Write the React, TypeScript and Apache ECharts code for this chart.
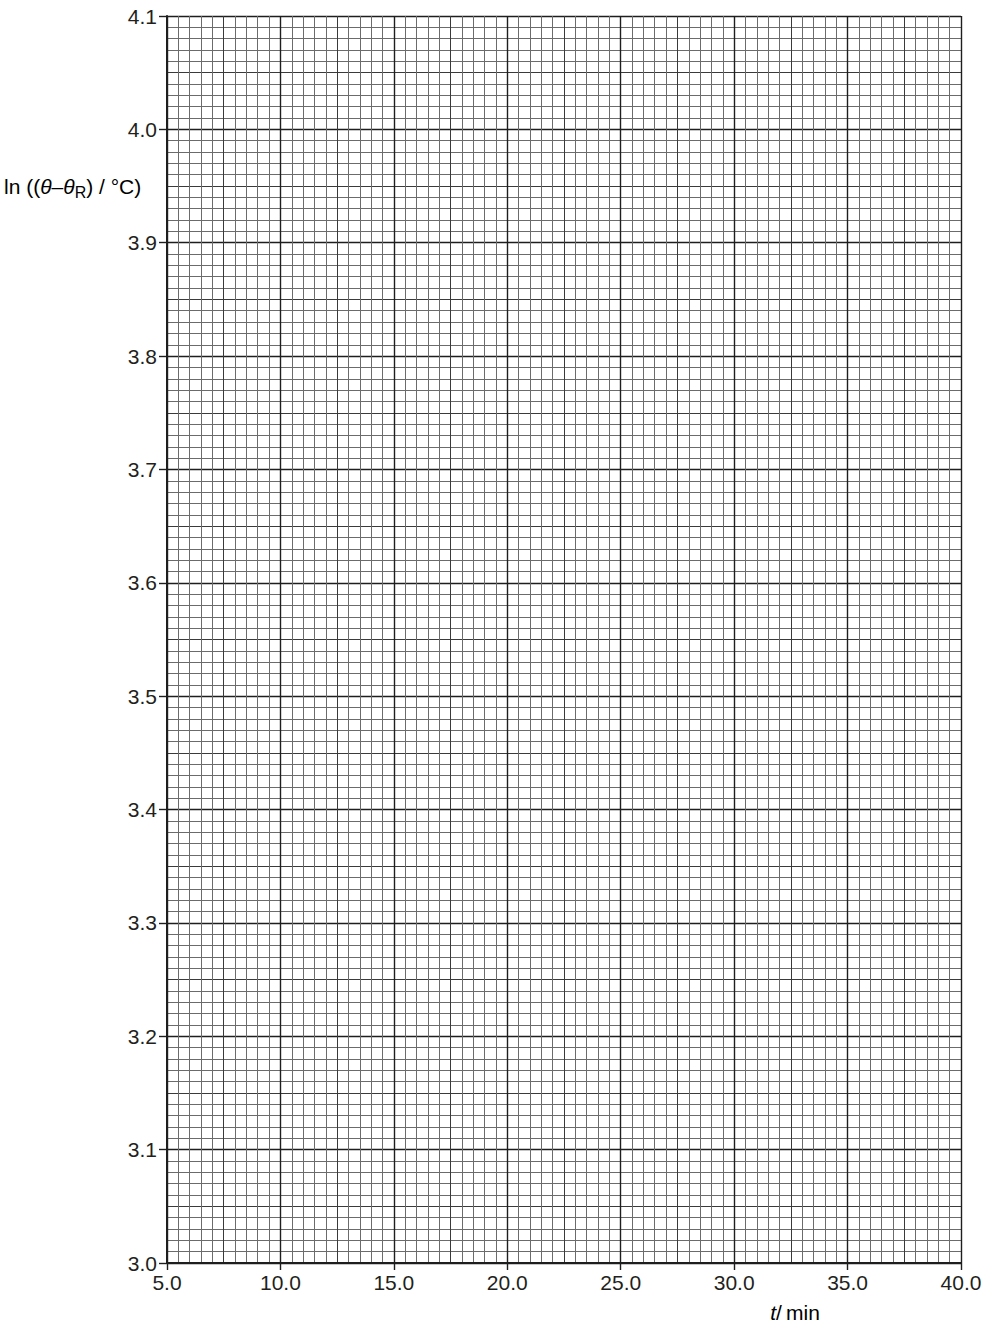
import * as echarts from "echarts";
import { useEffect, useRef } from "react";

/** 横轴 t / min：范围与三级网格间距（小格 0.5，中格 2.5，主格 5）。 */
const X_MIN = 5;
const X_MAX = 40;
const X_STEPS = [0.5, 2.5, 5];
const X_TICK_LABELS = ["5.0", "10.0", "15.0", "20.0", "25.0", "30.0", "35.0", "40.0"];

/** 纵轴 ln((θ−θR)/°C)：范围与三级网格间距（小格 0.01，中格 0.05，主格 0.1）。 */
const Y_MIN = 3.0;
const Y_MAX = 4.1;
const Y_STEPS = [0.01, 0.05, 0.1];
const Y_TICK_LABELS = ["3.0", "3.1", "3.2", "3.3", "3.4", "3.5", "3.6", "3.7", "3.8", "3.9", "4.0", "4.1"];

/** 小格 / 中格 / 主格 线色与线宽（与 *_STEPS 同序）。 */
const LINE_COLORS = ["#6b6b6b", "#3a3a3a", "#1e1e1e"];
const LINE_WIDTHS = [1, 1, 1.4];

const TEXT_COLOR = "#231f20";
const FONT = '"Liberation Sans", Arial, Helvetica, sans-serif';

function labelFor(labels: string[], min: number, step: number, v: number): string {
  return labels[Math.round((v - min) / step)] ?? "";
}

function buildOption(): echarts.EChartsOption {
  const xAxes = X_STEPS.map((step, i) => {
    const major = i === X_STEPS.length - 1;
    return {
      type: "value" as const,
      min: X_MIN,
      max: X_MAX,
      interval: step,
      position: "bottom" as const,
      axisLine: { show: major, onZero: false, lineStyle: { color: "#1e1e1e", width: 2 } },
      axisTick: { show: major, length: 7, lineStyle: { color: "#1e1e1e", width: 1.4 } },
      axisLabel: {
        show: major,
        margin: 9,
        color: TEXT_COLOR,
        fontSize: 21,
        fontFamily: FONT,
        formatter: (v: number) => labelFor(X_TICK_LABELS, X_MIN, step, v),
      },
      splitLine: { show: true, lineStyle: { color: LINE_COLORS[i], width: LINE_WIDTHS[i] } },
    };
  });
  const yAxes = Y_STEPS.map((step, i) => {
    const major = i === Y_STEPS.length - 1;
    return {
      type: "value" as const,
      min: Y_MIN,
      max: Y_MAX,
      interval: step,
      position: "left" as const,
      axisLine: { show: major, onZero: false, lineStyle: { color: "#1e1e1e", width: 2 } },
      axisTick: { show: major, length: 8, lineStyle: { color: "#1e1e1e", width: 1.4 } },
      axisLabel: {
        show: major,
        margin: 10,
        color: TEXT_COLOR,
        fontSize: 21,
        fontFamily: FONT,
        formatter: (v: number) => labelFor(Y_TICK_LABELS, Y_MIN, step, v),
      },
      splitLine: { show: true, lineStyle: { color: LINE_COLORS[i], width: LINE_WIDTHS[i] } },
    };
  });

  const rich = {
    n: { fontSize: 21, fontFamily: FONT, color: TEXT_COLOR },
    i: { fontSize: 21, fontFamily: FONT, fontStyle: "italic" as const, color: TEXT_COLOR },
    s: { fontSize: 16, fontFamily: FONT, color: TEXT_COLOR, padding: [12, 0, 0, 0] },
  };

  return {
    animation: false,
    grid: { left: 167, right: 28, top: 16, bottom: 68, outerBoundsMode: "none" } as echarts.GridComponentOption,
    xAxis: xAxes,
    yAxis: yAxes,
    series: [{ type: "scatter", data: [], xAxisIndex: 2, yAxisIndex: 2 }],
    graphic: [
      {
        type: "text",
        x: 4,
        y: 186,
        style: {
          text: "{n|ln ((}{i|θ}{n|–}{i|θ}{s|R}{n|) / °C)}",
          rich,
          verticalAlign: "middle",
        },
      },
      {
        type: "text",
        x: 795,
        y: 1312,
        style: {
          text: "{i|t}{n|/\u2009min}",
          rich,
          align: "center",
          verticalAlign: "middle",
        },
      },
    ],
  };
}

export default function App() {
  const chartRef = useRef<HTMLDivElement | null>(null);

  useEffect(() => {
    const el = chartRef.current;
    if (!el) {
      return undefined;
    }
    document.body.style.margin = "0";
    const chart = echarts.init(el, undefined, { renderer: "svg" });
    chart.setOption(buildOption());
    chart.resize();
    return () => {
      chart.dispose();
    };
  }, []);

  return <div ref={chartRef} style={{ width: 989, height: 1331, background: "#ffffff" }} />;
}
